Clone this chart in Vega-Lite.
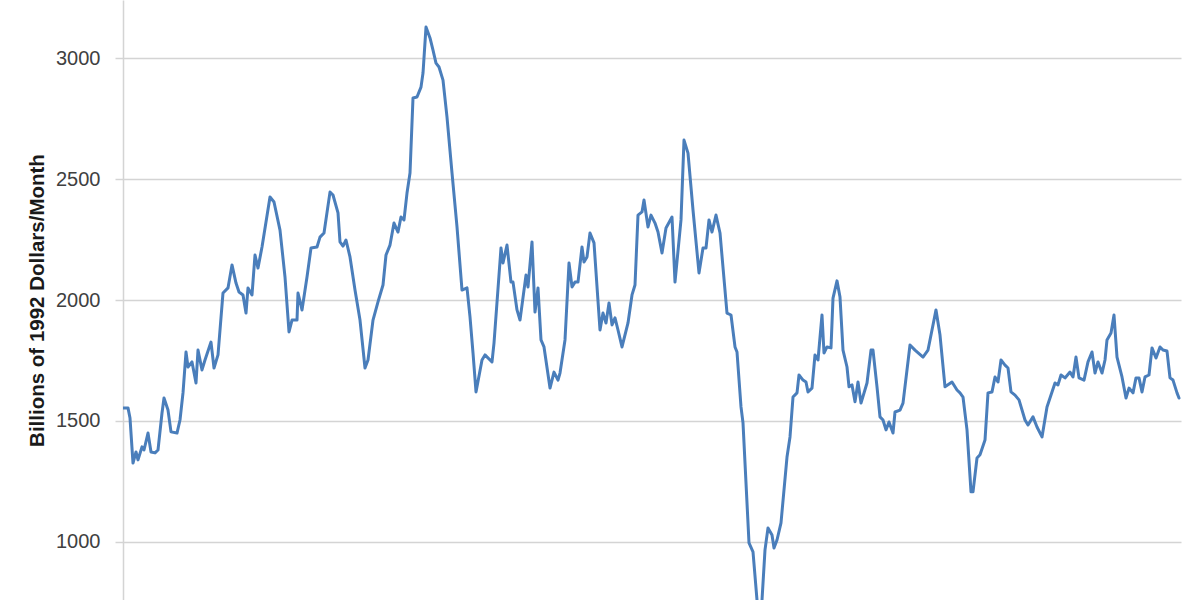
{
  "$schema": "https://vega.github.io/schema/vega-lite/v6.json",
  "width": 1058,
  "height": 600,
  "autosize": {"type": "none"},
  "padding": {"left": 123, "top": 0, "right": 19, "bottom": 0},
  "background": "white",
  "config": {"view": {"stroke": null}},
  "data": {"values": [
    {"t":0,"value":1554},{"t":5,"value":1554},{"t":7,"value":1512},{"t":10,"value":1326},{"t":13,"value":1372},{"t":15,"value":1339},{"t":19,"value":1393},{"t":21,"value":1380},{"t":25,"value":1450},{"t":28,"value":1372},{"t":32,"value":1368},{"t":35,"value":1380},{"t":39,"value":1533},{"t":41,"value":1595},{"t":45,"value":1545},{"t":48,"value":1455},{"t":54,"value":1450},{"t":57,"value":1504},{"t":60,"value":1616},{"t":63,"value":1785},{"t":65,"value":1723},{"t":69,"value":1744},{"t":73,"value":1657},{"t":75,"value":1793},{"t":79,"value":1711},{"t":82,"value":1752},{"t":88,"value":1826},{"t":91,"value":1719},{"t":95,"value":1773},{"t":100,"value":2029},{"t":105,"value":2050},{"t":109,"value":2145},{"t":113,"value":2070},{"t":116,"value":2033},{"t":120,"value":2021},{"t":123,"value":1946},{"t":125,"value":2050},{"t":129,"value":2021},{"t":132,"value":2186},{"t":135,"value":2132},{"t":139,"value":2219},{"t":147,"value":2426},{"t":151,"value":2405},{"t":157,"value":2289},{"t":162,"value":2095},{"t":166,"value":1868},{"t":169,"value":1917},{"t":174,"value":1917},{"t":175,"value":2029},{"t":179,"value":1959},{"t":184,"value":2095},{"t":188,"value":2215},{"t":194,"value":2219},{"t":197,"value":2260},{"t":201,"value":2277},{"t":207,"value":2446},{"t":210,"value":2434},{"t":215,"value":2360},{"t":217,"value":2240},{"t":220,"value":2223},{"t":223,"value":2248},{"t":227,"value":2178},{"t":232,"value":2041},{"t":237,"value":1917},{"t":242,"value":1719},{"t":245,"value":1752},{"t":250,"value":1917},{"t":255,"value":1992},{"t":260,"value":2062},{"t":263,"value":2186},{"t":267,"value":2227},{"t":271,"value":2318},{"t":275,"value":2281},{"t":278,"value":2343},{"t":281,"value":2331},{"t":284,"value":2442},{"t":287,"value":2525},{"t":290,"value":2835},{"t":294,"value":2839},{"t":298,"value":2880},{"t":300,"value":2938},{"t":303,"value":3128},{"t":307,"value":3083},{"t":310,"value":3033},{"t":313,"value":2979},{"t":316,"value":2963},{"t":320,"value":2909},{"t":324,"value":2756},{"t":329,"value":2525},{"t":334,"value":2302},{"t":339,"value":2041},{"t":344,"value":2050},{"t":347,"value":1930},{"t":350,"value":1781},{"t":353,"value":1620},{"t":359,"value":1752},{"t":362,"value":1773},{"t":369,"value":1744},{"t":371,"value":1822},{"t":378,"value":2215},{"t":380,"value":2153},{"t":384,"value":2227},{"t":388,"value":2074},{"t":390,"value":2074},{"t":394,"value":1959},{"t":397,"value":1917},{"t":403,"value":2103},{"t":405,"value":2054},{"t":409,"value":2240},{"t":412,"value":1950},{"t":415,"value":2050},{"t":418,"value":1835},{"t":421,"value":1806},{"t":427,"value":1636},{"t":431,"value":1702},{"t":435,"value":1669},{"t":437,"value":1698},{"t":442,"value":1835},{"t":446,"value":2153},{"t":449,"value":2054},{"t":452,"value":2074},{"t":455,"value":2074},{"t":459,"value":2219},{"t":461,"value":2157},{"t":464,"value":2178},{"t":467,"value":2277},{"t":471,"value":2236},{"t":477,"value":1876},{"t":480,"value":1946},{"t":483,"value":1905},{"t":486,"value":1988},{"t":489,"value":1897},{"t":492,"value":1926},{"t":495,"value":1876},{"t":499,"value":1806},{"t":505,"value":1905},{"t":509,"value":2021},{"t":512,"value":2062},{"t":515,"value":2351},{"t":519,"value":2364},{"t":521,"value":2413},{"t":525,"value":2302},{"t":528,"value":2351},{"t":532,"value":2318},{"t":535,"value":2281},{"t":539,"value":2194},{"t":543,"value":2298},{"t":549,"value":2343},{"t":552,"value":2074},{"t":558,"value":2331},{"t":561,"value":2661},{"t":565,"value":2607},{"t":570,"value":2372},{"t":576,"value":2112},{"t":580,"value":2215},{"t":583,"value":2215},{"t":586,"value":2331},{"t":589,"value":2281},{"t":593,"value":2351},{"t":597,"value":2277},{"t":604,"value":1946},{"t":608,"value":1938},{"t":612,"value":1806},{"t":614,"value":1785},{"t":618,"value":1558},{"t":620,"value":1492},{"t":626,"value":996},{"t":630,"value":959},{"t":634,"value":760},{"t":636,"value":680},{"t":639,"value":760},{"t":642,"value":967},{"t":645,"value":1058},{"t":649,"value":1029},{"t":651,"value":975},{"t":654,"value":1008},{"t":658,"value":1079},{"t":664,"value":1351},{"t":667,"value":1434},{"t":670,"value":1599},{"t":674,"value":1616},{"t":676,"value":1690},{"t":680,"value":1669},{"t":683,"value":1661},{"t":685,"value":1620},{"t":689,"value":1636},{"t":692,"value":1773},{"t":695,"value":1752},{"t":699,"value":1938},{"t":701,"value":1781},{"t":704,"value":1806},{"t":708,"value":1802},{"t":710,"value":2008},{"t":714,"value":2079},{"t":717,"value":2012},{"t":720,"value":1793},{"t":724,"value":1723},{"t":726,"value":1641},{"t":729,"value":1649},{"t":732,"value":1579},{"t":735,"value":1661},{"t":738,"value":1574},{"t":744,"value":1657},{"t":748,"value":1793},{"t":750,"value":1793},{"t":754,"value":1641},{"t":757,"value":1517},{"t":760,"value":1504},{"t":763,"value":1463},{"t":766,"value":1496},{"t":770,"value":1450},{"t":772,"value":1537},{"t":777,"value":1545},{"t":780,"value":1574},{"t":787,"value":1814},{"t":792,"value":1793},{"t":800,"value":1764},{"t":805,"value":1793},{"t":810,"value":1897},{"t":813,"value":1959},{"t":817,"value":1855},{"t":822,"value":1641},{"t":829,"value":1661},{"t":834,"value":1628},{"t":837,"value":1616},{"t":840,"value":1599},{"t":844,"value":1463},{"t":848,"value":1207},{"t":850,"value":1207},{"t":854,"value":1347},{"t":857,"value":1360},{"t":862,"value":1421},{"t":865,"value":1616},{"t":869,"value":1620},{"t":872,"value":1682},{"t":875,"value":1661},{"t":878,"value":1752},{"t":882,"value":1731},{"t":885,"value":1719},{"t":888,"value":1620},{"t":892,"value":1607},{"t":896,"value":1587},{"t":902,"value":1504},{"t":905,"value":1483},{"t":910,"value":1517},{"t":914,"value":1475},{"t":919,"value":1434},{"t":924,"value":1558},{"t":929,"value":1620},{"t":932,"value":1657},{"t":935,"value":1649},{"t":938,"value":1690},{"t":942,"value":1678},{"t":947,"value":1702},{"t":950,"value":1682},{"t":953,"value":1764},{"t":956,"value":1678},{"t":961,"value":1669},{"t":965,"value":1744},{"t":969,"value":1785},{"t":972,"value":1698},{"t":975,"value":1744},{"t":979,"value":1698},{"t":982,"value":1752},{"t":984,"value":1835},{"t":988,"value":1864},{"t":991,"value":1938},{"t":994,"value":1764},{"t":999,"value":1682},{"t":1003,"value":1595},{"t":1006,"value":1636},{"t":1010,"value":1616},{"t":1013,"value":1678},{"t":1016,"value":1678},{"t":1019,"value":1620},{"t":1022,"value":1682},{"t":1026,"value":1690},{"t":1029,"value":1802},{"t":1033,"value":1760},{"t":1037,"value":1806},{"t":1040,"value":1793},{"t":1044,"value":1789},{"t":1047,"value":1678},{"t":1050,"value":1669},{"t":1054,"value":1616},{"t":1056,"value":1595}
  ]},
  "mark": {"type": "line", "clip": true, "color": "#4a7ebb", "strokeWidth": 3, "strokeJoin": "round", "strokeCap": "round"},
  "encoding": {
    "x": {"field": "t", "type": "quantitative", "scale": {"domain": [0, 1058], "nice": false, "zero": false}, "axis": null},
    "y": {
      "field": "value", "type": "quantitative",
      "scale": {"domain": [760, 3240], "nice": false, "zero": false},
      "axis": {
        "values": [1000, 1500, 2000, 2500, 3000],
        "format": "d",
        "grid": true, "gridColor": "#d4d4d4", "gridWidth": 1.5,
        "domain": true, "domainColor": "#d4d4d4", "domainWidth": 1.5,
        "ticks": true, "tickSize": 8, "tickColor": "#d4d4d4", "tickWidth": 1.5,
        "labelFont": "Liberation Sans", "labelFontSize": 20, "labelColor": "#404040", "labelPadding": 15,
        "title": "Billions of 1992 Dollars/Month",
        "titleFont": "Liberation Sans", "titleFontSize": 20.5, "titleFontWeight": "bold", "titleColor": "#1a1a1a",
        "titlePadding": 8
      }
    }
  }
}
